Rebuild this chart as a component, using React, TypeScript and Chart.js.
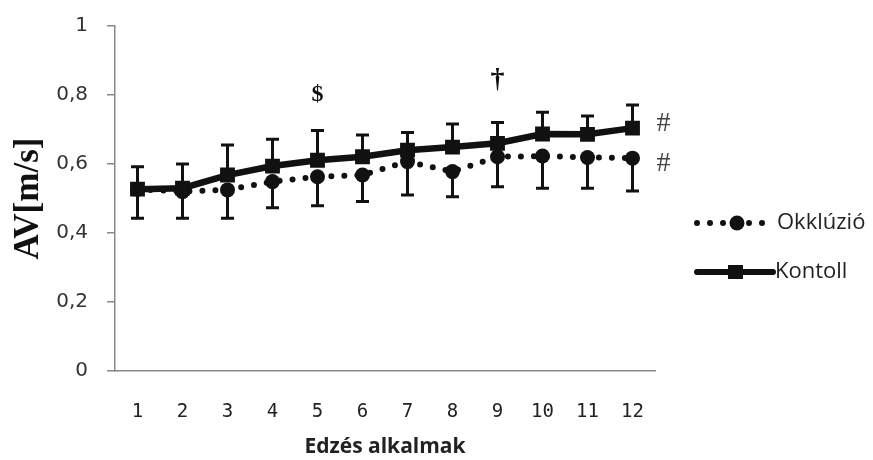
import React, { useEffect, useRef } from "react";
import { Chart, registerables } from "chart.js";

Chart.register(...registerables);

const categories = ["1", "2", "3", "4", "5", "6", "7", "8", "9", "10", "11", "12"];
const okkluzio = [0.527, 0.52, 0.525, 0.549, 0.563, 0.568, 0.607, 0.578, 0.621, 0.623, 0.619, 0.617];
const okkluzioErr = [0.084, 0.077, 0.082, 0.076, 0.084, 0.077, 0.097, 0.073, 0.087, 0.093, 0.089, 0.095];
const kontroll = [0.527, 0.53, 0.568, 0.594, 0.611, 0.621, 0.64, 0.649, 0.66, 0.687, 0.686, 0.704];
const kontrollErr = [0.065, 0.07, 0.087, 0.078, 0.086, 0.063, 0.051, 0.067, 0.06, 0.063, 0.053, 0.067];
const yTickValues = [0, 0.2, 0.4, 0.6, 0.8, 1];
const seriesNames = ["Okklúzió", "Kontoll"];
// significance markers
const markIndex = [4, 8];
const markValue = [0.802, 0.845];
const markSymbol = ["$", "†"];
const markSize = [24, 28];
const hashValues = [0.716, 0.6];

const fmt = (v: number) => (v === 0 || v === 1 ? String(v) : v.toFixed(1).replace(".", ","));

const errorBarPlugin = {
  id: "errorBars",
  afterDatasetsDraw(chart: any) {
    const { ctx } = chart;
    const x = chart.scales.x;
    const y = chart.scales.y;
    ctx.save();
    ctx.strokeStyle = "#111";
    ctx.lineWidth = 3;
    const cap = 6.5;
    const drawBar = (i: number, from: number, to: number) => {
      const px = x.getPixelForValue(i);
      const p1 = y.getPixelForValue(from);
      const p2 = y.getPixelForValue(to);
      ctx.beginPath();
      ctx.moveTo(px, p1);
      ctx.lineTo(px, p2);
      ctx.moveTo(px - cap, p2);
      ctx.lineTo(px + cap, p2);
      ctx.stroke();
    };
    categories.forEach((_, i) => {
      drawBar(i, kontroll[i], kontroll[i] + kontrollErr[i]);
      drawBar(i, okkluzio[i], okkluzio[i] - okkluzioErr[i]);
    });
    ctx.restore();
  },
  afterDraw(chart: any) {
    const { ctx, chartArea } = chart;
    const x = chart.scales.x;
    const y = chart.scales.y;
    ctx.save();
    ctx.fillStyle = "#111";
    ctx.textAlign = "center";
    ctx.textBaseline = "middle";
    markIndex.forEach((idx, k) => {
      ctx.font = `bold ${markSize[k]}px 'Liberation Serif', serif`;
      ctx.fillText(markSymbol[k], x.getPixelForValue(idx), y.getPixelForValue(markValue[k]));
    });
    ctx.font = "28px 'Liberation Serif', serif";
    ctx.fillStyle = "#444";
    const last = categories.length - 1;
    hashValues.forEach((v) => {
      ctx.fillText("#", x.getPixelForValue(last) + 31, y.getPixelForValue(v));
    });

    // legend
    const lx = chartArea.right + 42;
    const rows = [215, 264];
    ctx.strokeStyle = "#111";
    ctx.fillStyle = "#111";
    ctx.lineCap = "round";
    ctx.lineWidth = 6;
    ctx.setLineDash([0, 13]);
    ctx.beginPath();
    ctx.moveTo(lx, rows[0]);
    ctx.lineTo(lx + 66, rows[0]);
    ctx.stroke();
    ctx.setLineDash([]);
    ctx.beginPath();
    ctx.arc(lx + 40, rows[0], 7.5, 0, Math.PI * 2);
    ctx.fill();
    ctx.lineWidth = 6;
    ctx.beginPath();
    ctx.moveTo(lx, rows[1]);
    ctx.lineTo(lx + 76, rows[1]);
    ctx.stroke();
    ctx.fillRect(lx + 31, rows[1] - 7, 15, 14);
    ctx.font = "22px 'Open Sans', sans-serif";
    ctx.textAlign = "left";
    ctx.fillStyle = "#222";
    ctx.fillText(seriesNames[0], lx + 80, rows[0]);
    ctx.fillText(seriesNames[1], lx + 78, rows[1]);
    ctx.restore();
  },
};

export default function App() {
  const ref = useRef<HTMLCanvasElement>(null);
  useEffect(() => {
    if (!ref.current) return;
    const chart = new Chart(ref.current, {
      type: "line",
      data: {
        labels: categories,
        datasets: [
          {
            label: seriesNames[1],
            data: kontroll,
            borderColor: "#111",
            backgroundColor: "#111",
            borderWidth: 6.5,
            pointStyle: "rect",
            pointRadius: 10.5,
            pointBorderWidth: 0,
            tension: 0,
          },
          {
            label: seriesNames[0],
            data: okkluzio,
            borderColor: "#111",
            backgroundColor: "#111",
            borderWidth: 6,
            borderDash: [0, 13],
            borderCapStyle: "round",
            pointStyle: "circle",
            pointRadius: 7.5,
            pointBorderWidth: 0,
            tension: 0,
          },
        ],
      },
      options: {
        animation: false,
        responsive: true,
        maintainAspectRatio: false,
        layout: { padding: { top: 18, right: 210, left: 0, bottom: 0 } },
        plugins: { legend: { display: false }, tooltip: { enabled: false } },
        scales: {
          x: {
            offset: true,
            grid: { display: false, drawTicks: false, tickLength: 0 },
            border: { display: true, color: "#888", width: 1.5 },
            ticks: {
              padding: 30,
              color: "#222",
              font: { family: "'DejaVu Sans Mono', monospace", size: 19 },
              maxRotation: 0,
            },
            title: {
              display: true,
              text: "Edzés alkalmak",
              color: "#222",
              font: { family: "'Open Sans', sans-serif", size: 21, weight: "bold" },
              padding: { top: 0, bottom: 0 },
            },
            afterFit: (s: any) => {
              s.height = 89;
            },
          },
          y: {
            min: 0,
            max: 1,
            afterBuildTicks: (s: any) => {
              s.ticks = yTickValues.map((v) => ({ value: v }));
            },
            grid: { drawOnChartArea: false, drawTicks: true, tickLength: 8, color: "#888", lineWidth: 1.5 },
            border: { display: true, color: "#888", width: 1.5 },
            ticks: {
              padding: 19,
              color: "#333",
              font: { family: "'DejaVu Sans', sans-serif", size: 20 },
              callback: (v: any) => fmt(Number(v)),
            },
            title: {
              display: true,
              text: "AV[m/s]",
              color: "#111",
              font: { family: "'Liberation Serif', serif", size: 35, weight: "bold" },
              padding: { top: 0, bottom: 0 },
            },
            afterFit: (s: any) => {
              s.width = 107;
              s.paddingTop = 0;
              s.paddingBottom = 0;
            },
          },
        },
      },
      plugins: [errorBarPlugin],
    });
    return () => chart.destroy();
  }, []);
  return (
    <div style={{ width: 857, height: 452, position: "relative" }}>
      <canvas ref={ref} />
    </div>
  );
}
